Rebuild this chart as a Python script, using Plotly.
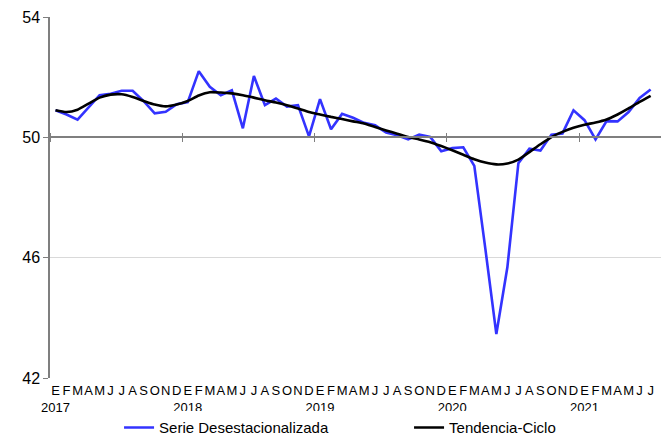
import plotly.graph_objects as go

months = ["E", "F", "M", "A", "M", "J", "J", "A", "S", "O", "N", "D"]
years = [2017, 2018, 2019, 2020, 2021]
n_last_year = 7

serie = [50.90, 50.76, 50.59, 51.00, 51.40, 51.45, 51.55, 51.55, 51.20, 50.80, 50.85, 51.10,
         51.17, 52.20, 51.68, 51.40, 51.56, 50.30, 52.04, 51.07, 51.29, 51.02, 51.07, 50.03,
         51.27, 50.27, 50.78, 50.65, 50.48, 50.40, 50.16, 50.07, 49.93, 50.09, 50.01, 49.54,
         49.64, 49.67, 49.05, 46.30, 43.46, 45.68, 49.14, 49.62, 49.56, 50.09, 50.13, 50.90,
         50.57, 49.93, 50.54, 50.53, 50.84, 51.31, 51.59]

tendencia = [50.90, 50.84, 50.92, 51.12, 51.32, 51.42, 51.43, 51.34, 51.21, 51.09, 51.03, 51.09,
             51.21, 51.39, 51.50, 51.49, 51.46, 51.40, 51.32, 51.23, 51.16, 51.07, 50.96, 50.84,
             50.76, 50.68, 50.61, 50.53, 50.46, 50.34, 50.23, 50.12, 50.01, 49.93, 49.84, 49.71,
             49.57, 49.42, 49.27, 49.16, 49.10, 49.13, 49.26, 49.51, 49.77, 50.01, 50.18, 50.32,
             50.42, 50.49, 50.59, 50.76, 50.96, 51.18, 51.38]

y_ticks = [42, 46, 50, 54]
threshold = 50

# Build tick labels
ticktext = []
for yi, yr in enumerate(years):
    count = n_last_year if yi == len(years) - 1 else 12
    for m in range(count):
        lab = months[m]
        if m == 0:
            lab = lab + "<br>" + str(yr)
        ticktext.append(lab)
x = list(range(len(serie)))
year_bounds = [i * 12 - 0.5 for i in range(len(years))]

xrange = [-0.5, len(serie) - 0.06]
font_family = "Liberation Sans, Arial, sans-serif"

fig = go.Figure()
fig.add_trace(go.Scatter(x=x, y=serie, mode="lines", name="Serie Desestacionalizada",
                         line=dict(color="#3333ff", width=2.6)))
fig.add_trace(go.Scatter(x=x, y=tendencia, mode="lines", name="Tendencia-Ciclo",
                         line=dict(color="#000000", width=2.6, shape="spline", smoothing=0.6)))
# helper (empty) traces so the threshold axes get drawn
fig.add_trace(go.Scatter(x=[], y=[], xaxis="x2", yaxis="y", showlegend=False, hoverinfo="skip"))
fig.add_trace(go.Scatter(x=[], y=[], xaxis="x3", yaxis="y", showlegend=False, hoverinfo="skip"))

pos50 = (threshold - y_ticks[0]) / (y_ticks[-1] - y_ticks[0])

fig.update_layout(
    width=662, height=438,
    margin=dict(l=50, r=1, t=17, b=60, autoexpand=False),
    paper_bgcolor="white", plot_bgcolor="white",
    font=dict(family=font_family, color="black"),
    showlegend=True,
    legend=dict(orientation="h", x=0.113, xanchor="left", y=-0.092, yanchor="top",
                font=dict(size=15, family=font_family), entrywidth=245, traceorder="normal",
                itemwidth=30),
    xaxis=dict(range=xrange, tickvals=x, ticktext=ticktext, showgrid=False, showline=False,
               ticks="", zeroline=False, tickfont=dict(size=13), tickangle=0,
               ticklabelstandoff=3),
    yaxis=dict(range=[y_ticks[0], y_ticks[-1]], tickvals=y_ticks, showgrid=True,
               gridcolor="#d9d9d9", gridwidth=1, showline=True, linecolor="#7f7f7f",
               linewidth=1.5, ticks="outside", ticklen=5, tickcolor="#7f7f7f",
               tickfont=dict(size=16), zeroline=False),
    xaxis2=dict(overlaying="x", anchor="free", position=pos50, side="bottom",
                range=xrange, tickvals=year_bounds, showticklabels=False, ticks="outside",
                ticklen=4, tickcolor="#7f7f7f", showline=True, linecolor="#7f7f7f",
                linewidth=1.5, showgrid=False, zeroline=False),
    xaxis3=dict(overlaying="x", anchor="free", position=pos50, side="top",
                range=xrange, tickvals=year_bounds, showticklabels=False, ticks="outside",
                ticklen=4, tickcolor="#7f7f7f", showline=False, showgrid=False, zeroline=False),
)

fig.write_html("out.html", config={"displayModeBar": False},
               post_script="document.body.style.margin='0';document.body.style.padding='0';")
